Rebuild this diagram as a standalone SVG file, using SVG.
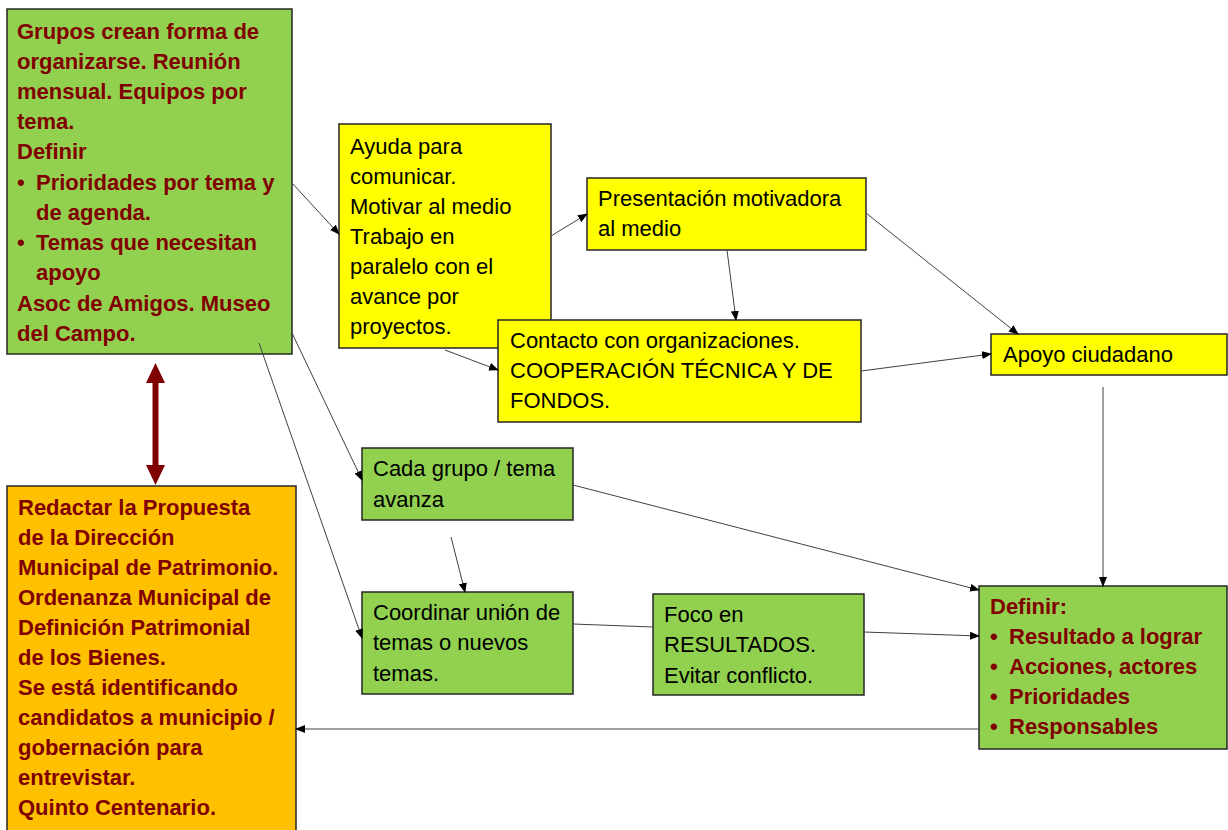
<svg xmlns="http://www.w3.org/2000/svg" width="1228" height="830" viewBox="0 0 1228 830">
<defs>
<marker id="ah" markerWidth="10" markerHeight="8" refX="9" refY="4" orient="auto" markerUnits="userSpaceOnUse">
<path d="M0,0 L10,4 L0,8 Z" fill="#000"/>
</marker>
</defs>
<style>
.box{stroke:#262626;stroke-width:1.5}
.g{fill:#92D050}
.y{fill:#FFFF00}
.o{fill:#FFC000}
.t{font-family:"Liberation Sans",Arial,sans-serif;font-size:22px;fill:#000}
.b{font-family:"Liberation Sans",Arial,sans-serif;font-size:22px;font-weight:bold;fill:#800000}
.c{stroke:#404040;stroke-width:1;fill:none}
</style>
<rect width="1228" height="830" fill="#fff"/>

<g id="grupos">
<rect class="box g" x="7" y="9" width="285" height="345"/>
<text class="b" x="17" y="39">Grupos crean forma de</text>
<text class="b" x="17" y="69">organizarse. Reunión</text>
<text class="b" x="17" y="99">mensual. Equipos por</text>
<text class="b" x="17" y="129">tema.</text>
<text class="b" x="17" y="159">Definir</text>
<text class="b" x="17" y="190">•</text><text class="b" x="36" y="190">Prioridades por tema y</text>
<text class="b" x="36" y="220">de agenda.</text>
<text class="b" x="17" y="250">•</text><text class="b" x="36" y="250">Temas que necesitan</text>
<text class="b" x="36" y="280">apoyo</text>
<text class="b" x="17" y="311">Asoc de Amigos. Museo</text>
<text class="b" x="17" y="341">del Campo.</text>
</g>

<g id="ayuda">
<rect class="box y" x="339" y="124" width="212" height="224"/>
<text class="t" x="350" y="154">Ayuda para</text>
<text class="t" x="350" y="184">comunicar.</text>
<text class="t" x="350" y="214">Motivar al medio</text>
<text class="t" x="350" y="244">Trabajo en</text>
<text class="t" x="350" y="274">paralelo con el</text>
<text class="t" x="350" y="304">avance por</text>
<text class="t" x="350" y="334">proyectos.</text>
</g>

<g id="presentacion">
<rect class="box y" x="587" y="178" width="279" height="72"/>
<text class="t" x="598" y="206">Presentación motivadora</text>
<text class="t" x="598" y="236">al medio</text>
</g>

<g id="contacto">
<rect class="box y" x="498" y="320" width="363" height="102"/>
<text class="t" x="510" y="348">Contacto con organizaciones.</text>
<text class="t" x="510" y="378">COOPERACIÓN TÉCNICA Y DE</text>
<text class="t" x="510" y="408">FONDOS.</text>
</g>

<g id="apoyo">
<rect class="box y" x="991" y="334" width="236" height="41"/>
<text class="t" x="1003" y="362">Apoyo ciudadano</text>
</g>

<g id="cada">
<rect class="box g" x="362" y="448" width="211" height="72"/>
<text class="t" x="373" y="476">Cada grupo / tema</text>
<text class="t" x="373" y="507">avanza</text>
</g>

<g id="coordinar">
<rect class="box g" x="362" y="592" width="211" height="102"/>
<text class="t" x="373" y="620">Coordinar unión de</text>
<text class="t" x="373" y="650">temas o nuevos</text>
<text class="t" x="373" y="681">temas.</text>
</g>

<g id="foco">
<rect class="box g" x="653" y="594" width="211" height="101"/>
<text class="t" x="664" y="622">Foco en</text>
<text class="t" x="664" y="652">RESULTADOS.</text>
<text class="t" x="664" y="683">Evitar conflicto.</text>
</g>

<g id="definir">
<rect class="box g" x="979" y="586" width="248" height="163"/>
<text class="b" x="990" y="614">Definir:</text>
<text class="b" x="990" y="644">•</text><text class="b" x="1009" y="644">Resultado a lograr</text>
<text class="b" x="990" y="674">•</text><text class="b" x="1009" y="674">Acciones, actores</text>
<text class="b" x="990" y="704">•</text><text class="b" x="1009" y="704">Prioridades</text>
<text class="b" x="990" y="734">•</text><text class="b" x="1009" y="734">Responsables</text>
</g>

<g id="redactar">
<rect class="box o" x="7" y="486" width="289" height="350"/>
<text class="b" x="18" y="515">Redactar la Propuesta</text>
<text class="b" x="18" y="545">de la Dirección</text>
<text class="b" x="18" y="575">Municipal de Patrimonio.</text>
<text class="b" x="18" y="605">Ordenanza Municipal de</text>
<text class="b" x="18" y="635">Definición Patrimonial</text>
<text class="b" x="18" y="665">de los Bienes.</text>
<text class="b" x="18" y="695">Se está identificando</text>
<text class="b" x="18" y="725">candidatos a municipio /</text>
<text class="b" x="18" y="755">gobernación para</text>
<text class="b" x="18" y="785">entrevistar.</text>
<text class="b" x="18" y="815">Quinto Centenario.</text>
</g>

<g id="connectors">
<line x1="155.5" y1="380" x2="155.5" y2="468" stroke="#7F0000" stroke-width="6"/>
<path d="M146,383 L155.5,363 L165,383 Z" fill="#7F0000"/>
<path d="M146,465 L155.5,485 L165,465 Z" fill="#7F0000"/>
<line class="c" x1="292" y1="183" x2="339" y2="234" marker-end="url(#ah)"/>
<line class="c" x1="551" y1="236" x2="587" y2="214" marker-end="url(#ah)"/>
<line class="c" x1="727" y1="250" x2="736" y2="320" marker-end="url(#ah)"/>
<line class="c" x1="445" y1="350" x2="498" y2="370" marker-end="url(#ah)"/>
<line class="c" x1="866" y1="213" x2="1018" y2="334" marker-end="url(#ah)"/>
<line class="c" x1="861" y1="371" x2="991" y2="354" marker-end="url(#ah)"/>
<line class="c" x1="1103" y1="387" x2="1103" y2="586" marker-end="url(#ah)"/>
<line class="c" x1="292" y1="333" x2="362" y2="480" marker-end="url(#ah)"/>
<line class="c" x1="259" y1="343" x2="362" y2="638" marker-end="url(#ah)"/>
<line class="c" x1="451" y1="537" x2="465" y2="592" marker-end="url(#ah)"/>
<line class="c" x1="573" y1="485" x2="979" y2="590" marker-end="url(#ah)"/>
<line class="c" x1="573" y1="624" x2="653" y2="627"/>
<line class="c" x1="864" y1="632" x2="979" y2="636" marker-end="url(#ah)"/>
<line class="c" x1="979" y1="729" x2="296" y2="729" marker-end="url(#ah)"/>
</g>
</svg>
